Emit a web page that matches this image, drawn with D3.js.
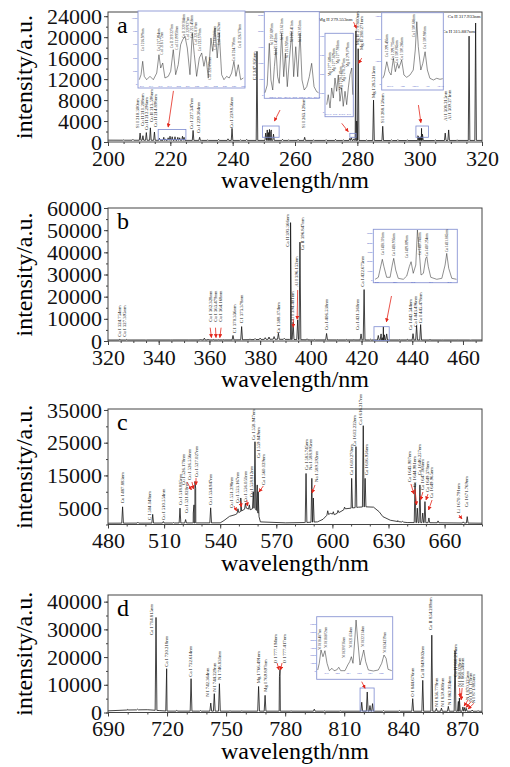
<!DOCTYPE html>
<html>
<head>
<meta charset="utf-8">
<script src="https://cdn.jsdelivr.net/npm/d3@7"></script>
<style>
  body { margin: 0; background: #fff; }
  text { font-family: "Liberation Serif", "Times New Roman", serif; }
</style>
</head>
<body>
<script>
// ---- panel a : 200-320 nm ----
var aPeakWl  = [205, 208, 210.3, 211.2, 212.3, 213.6, 214.9, 216.5, 217.9, 218.3, 219.3, 219.9, 220.6, 221.5, 222.4, 223.0, 223.9, 224.4, 227.3, 229.4, 232, 235.5, 238.5, 239.8, 242.5, 244.5, 247.8, 250.6, 251.1, 251.5, 251.8, 252.2, 252.4, 253.1, 256, 258, 261, 263.1, 266, 270, 273, 275.5, 277.6, 278.1, 278.9, 279.55, 279.8, 280.27, 283, 285.2, 288.15, 291, 293, 296, 299.4, 299.6, 299.9, 300.3, 300.6, 300.9, 305, 308.2, 309.3, 312, 315.85, 317.95];
var aPeakVal = [400, 500, 1700, 1200, 1800, 2700, 1900, 700, 900, 600, 800, 1100, 1000, 1000, 900, 800, 1100, 900, 2200, 900, 400, 500, 600, 2600, 400, 500, 17300, 1700, 2300, 1800, 2400, 2000, 2300, 1500, 500, 400, 500, 900, 400, 450, 500, 400, 700, 800, 600, 21200, 4000, 17800, 400, 8000, 3000, 400, 450, 400, 1200, 1100, 900, 1000, 2600, 1500, 400, 1700, 2300, 400, 20200, 22700];
var aBaseWl  = [200, 230, 260, 300, 320];
var aBaseVal = [350, 300, 300, 280, 300];
var aXTicks = [200, 220, 240, 260, 280, 300, 320];
var aYTicks = [0, 4000, 8000, 12000, 16000, 20000, 24000];
var aLabels = [
  ["Si I 210.300nm", 209.46, 2670], ["Cu II 211.208nm", 210.9, 3050], ["Cu II 212.296nm", 212.35, 2290],
  ["Cu II 213.598nm", 213.8, 3810], ["Cu II 214.898nm", 215.24, 2860], ["Cu I 227.347nm", 226.85, 2480],
  ["Cu I 229.384nm", 228.97, 1710], ["Cu I 239.856nm", 239.69, 2670], ["C I 247.856nm", 247.0, 11800],
  ["Si I 263.128nm", 262.66, 2670], ["Mg II 279.800nm", 280.04, 18480], ["Mg II 280.271nm", 281.17, 17530],
  ["Mg I 285.213nm", 285.11, 8380], ["Si I 288.158nm", 288.0, 3620], ["Al I 308.215nm", 308.12, 4000],
  ["Al I 309.271nm", 309.56, 4190]
];
var aFlatLabels = [["Mg II 279.553nm", 278.44, 23050], ["Ca II 315.887nm", 317.74, 20760], ["Ca II 317.933nm", 319.5, 23620]];
var aArrows = [[221.0, 9750, 219.3, 2850], [255.2, 6100, 253.4, 4000], [275.0, 3560, 277.1, 1960], [299.6, 7050, 300.4, 3680], [278.8, 22860, 279.7, 21700], [281.4, 16000, 280.4, 15000]];
var aBoxes = [[216.1, 225, 500, 2400], [249.6, 254.9, 900, 3050], [277.6, 279.6, 900, 1650], [298.8, 302.8, 900, 3050]];

// insets of panel a
var insA1Wl  = [215.73, 215.92, 216.1, 216.27, 216.53, 216.89, 217.25, 217.62, 217.86, 218.05, 218.27, 218.51, 218.87, 219.13, 219.41, 219.67, 219.95, 220.21, 220.43, 220.68, 220.93, 221.22, 221.47, 221.69, 221.94, 222.23, 222.49, 222.73, 222.95, 223.2, 223.49, 223.68, 223.93, 224.17, 224.39, 224.65, 224.9, 225.19, 225.47, 225.73, 225.98, 226.2, 226.45, 226.71, 227.0];
var insA1Val = [65, 141, 344, 116, 65, 116, 65, 166, 444, 242, 318, 91, 116, 192, 520, 141, 293, 596, 672, 722, 545, 141, 773, 444, 116, 394, 470, 268, 419, 91, 697, 495, 848, 394, 773, 141, 65, 116, 91, 166, 344, 116, 293, 65, 91];
var insA1Labels = [
  ["Cu I 216.509nm", 216.1, 495], ["Cu I 217.894nm", 217.79, 495], ["Cu I 218.172nm", 218.15, 444],
  ["Cu II 219.227nm", 219.23, 545], ["Cu II 219.958nm", 219.78, 520], ["Cu II 220.384nm", 220.5, 697],
  ["Cu I 220.927nm", 220.93, 672], ["Cu I 221.458nm", 221.4, 697], ["Cu I 221.810nm", 221.83, 596],
  ["Cu I 222.570nm", 222.3, 495], ["Cu I 222.898nm", 223.38, 66], ["Cu II 223.008nm", 223.92, 520],
  ["Cu I 224.262nm", 224.39, 596], ["Cu II 224.700nm", 225.98, 343], ["Cu II 226.378nm", 226.63, 545]
];
var insA2Wl  = [250.0, 250.15, 250.29, 250.4, 250.52, 250.63, 250.74, 250.85, 250.96, 251.12, 251.26, 251.37, 251.5, 251.64, 251.8, 251.93, 252.07, 252.2, 252.36, 252.49, 252.64, 252.81, 252.98, 253.14, 253.3, 253.48, 253.6];
var insA2Val = [72, 312, 1615, 469, 156, 885, 1459, 572, 364, 1928, 572, 1303, 260, 1094, 1978, 572, 1509, 572, 1928, 469, 156, 260, 572, 990, 260, 103, 72];
var insA2Labels = [["Si I 250.690nm", 250.44, 1563], ["Si I 251.432nm", 250.74, 1250], ["Si I 251.611nm", 251.11, 1719], ["Si I 251.920nm", 251.45, 1156], ["Si I 252.411nm", 251.78, 1656], ["Si I 252.851nm", 252.32, 1656]];
var insA3Wl  = [277.39, 277.5, 277.63, 277.75, 277.87, 277.99, 278.11, 278.23, 278.35, 278.48, 278.59, 278.72, 278.84, 278.96, 279.08, 279.21, 279.28];
var insA3Val = [77, 182, 42, 253, 147, 358, 218, 390, 113, 253, 60, 218, 77, 253, 393, 463, 182];
var insA3Labels = [["Mg I 277.669nm", 277.63, 379], ["Mg I 277.829nm", 277.88, 421], ["Mg I 277.983nm", 278.16, 505], ["Mg I 278.142nm", 278.41, 232], ["Mg I 278.297nm", 278.65, 316], ["Mg II 279.079nm", 278.91, 474]];
var insA4Wl  = [299.21, 299.27, 299.37, 299.46, 299.54, 299.63, 299.71, 299.79, 299.85, 299.96, 300.05, 300.16, 300.29, 300.42, 300.5, 300.56, 300.62, 300.72, 300.8, 300.89, 300.98, 301.08, 301.22, 301.35, 301.48, 301.59];
var insA4Val = [251, 397, 983, 542, 397, 1133, 542, 913, 692, 1058, 397, 295, 397, 617, 1499, 2747, 1649, 617, 913, 1424, 617, 251, 176, 251, 207, 234];
var insA4Labels = [["Cu I 299.456nm", 299.37, 1191], ["Cu I 299.735nm", 299.6, 1058], ["Cu I 300.065nm", 299.76, 926], ["Cu I 300.286nm", 299.96, 1058], ["Cu I 300.688nm", 300.43, 2073], ["Cu I 300.980nm", 300.89, 1544]];

// ---- panel b : 320-468 nm ----
var bPeakWl  = [324.7, 327.4, 335, 345, 352, 356.5, 358, 359.5, 361.5, 363.5, 365.5, 369.3, 372.7, 376, 378, 380, 382, 383.5, 385.5, 387.2, 389.5, 392.0, 393.0, 394.8, 395.7, 398.5, 401.5, 406.2, 410.5, 414, 417, 419.8, 421.0, 423.5, 426.6, 427.7, 428.2, 428.6, 429.0, 429.9, 435, 438, 440.3, 441.7, 443.3, 447, 452, 458, 463];
var bPeakVal = [800, 700, 400, 500, 500, 900, 1300, 900, 700, 600, 600, 2500, 6500, 900, 1100, 1300, 1500, 1800, 2000, 3500, 1200, 53400, 8500, 9500, 44600, 1000, 700, 3400, 600, 700, 600, 3200, 23200, 800, 2500, 3200, 1500, 6400, 2800, 3200, 600, 800, 3300, 7000, 7400, 700, 500, 500, 400];
var bBaseWl  = [320, 370, 385, 392, 400, 467.5];
var bBaseVal = [450, 500, 800, 700, 500, 450];
var bXTicks = [320, 340, 360, 380, 400, 420, 440, 460];
var bYTicks = [0, 10000, 20000, 30000, 40000, 50000, 60000];
var bLabels = [
  ["Cu I 324.754nm", 324.34, 1940], ["Cu I 327.395nm", 326.3, 1940], ["Cu I 362.328nm", 360.5, 8700],
  ["Cu I 363.479nm", 362.47, 8700], ["Cu I 364.168nm", 364.44, 8700], ["C I 370.336nm", 369.68, 3470],
  ["C I 373.378nm", 372.72, 7980], ["Cu I 388.174nm", 387.15, 3470], ["Ca II 393.366nm", 390.7, 42530],
  ["Al I 394.401nm", 392.83, 8700], ["Al I 396.152nm", 394.41, 24490], ["Ca II 396.847nm", 396.77, 41040],
  ["Cu I 406.530nm", 406.24, 4960], ["Cu I 421.360nm", 418.3, 4960], ["Ca I 422.673nm", 420.43, 24490],
  ["Ca I 442.544nm", 439.36, 4960], ["Ca I 443.496nm", 441.06, 6450], ["Ca I 445.478nm", 443.03, 7980]
];
var bArrows = [[431.8, 20300, 429.8, 8600], [393.1, 9800, 393.1, 6200], [394.8, 23000, 394.6, 9800], [360.3, 6000, 360.8, 1500], [362.4, 6000, 362.6, 1500], [364.6, 6000, 364.1, 1500]];
var bBoxes = [[424.9, 430.9, 150, 6450]];
var insBWl  = [427.9, 428.08, 428.23, 428.3, 428.39, 428.54, 428.73, 428.85, 428.93, 429.04, 429.18, 429.46, 429.65, 429.79, 429.89, 430.01, 430.15, 430.24, 430.33, 430.44, 430.57, 430.7, 430.76, 430.84, 430.98, 431.31, 431.59, 431.77, 431.86, 431.97, 432.14, 432.4];
var insBVal = [75, 289, 1605, 2215, 1423, 289, 289, 1605, 2322, 1070, 182, 75, 428, 1423, 1958, 717, 1605, 5350, 3391, 535, 717, 2322, 2493, 1423, 289, 75, 182, 1605, 2854, 1249, 182, 75];
var insBLabels = [["Ca I 428.301nm", 428.3, 2675], ["Ca I 428.936nm", 428.91, 2568], ["Ca I 429.899nm", 429.65, 2354], ["Ca I 430.043nm", 430.39, 2675], ["Ca I 430.254nm", 430.76, 2568], ["Ca I 431.865nm", 431.86, 2996]];

// ---- panel c : 480-680 nm ----
var cPeakWl  = [487.8, 496, 503.9, 509.6, 515, 518.5, 521.5, 525.6, 526.0, 526.5, 526.9, 534.9, 549.5, 551.0, 553.5, 555.6, 557.7, 558.6, 559.8, 560.3, 585.9, 589.0, 589.8, 597.5, 600.5, 603, 606.5, 610.3, 612.6, 616.5, 617.5, 635, 637.5, 644.2, 645.4, 646.8, 648.3, 649.5, 651.6, 656.5, 670.0, 672.1];
var cPeakVal = [5400, 700, 3100, 900, 600, 5000, 1500, 3500, 6000, 13100, 11000, 5100, 4800, 8100, 6500, 6000, 10000, 25300, 12100, 10000, 15600, 14100, 8100, 4200, 3900, 4300, 5300, 14100, 23800, 30200, 14100, 1200, 1000, 12600, 5000, 12100, 3500, 7000, 2000, 1100, 800, 2400];
var cBaseWl  = [480, 540, 542, 545, 548, 551, 554, 556, 558, 560, 561.5, 575, 585, 592, 595, 597, 599, 601, 604, 607, 610, 614, 618, 622, 625, 627, 631, 635, 640, 680];
var cBaseVal = [400, 500, 1200, 2500, 3000, 4000, 5000, 4500, 5000, 4000, 800, 500, 600, 800, 1600, 2800, 3400, 3000, 3800, 4800, 5000, 5300, 5400, 5300, 3900, 2400, 1300, 900, 600, 400];
var cXTicks = [480, 510, 540, 570, 600, 630, 660];
var cYTicks = [5000, 15000, 25000, 35000];
var cLabels = [
  ["Cu I 487.883nm", 487.86, 6480], ["C I 504.148nm", 502.2, 1400], ["Cu I 510.554nm", 509.68, 1400],
  ["Cu I 518.885nm", 518.5, 5960], ["Cu I 521.820nm", 521.7, 3510], ["Cu I 526.170nm", 520.27, 12070],
  ["Cu I 526.556nm", 523.48, 13600], ["Cu I 527.027nm", 527.06, 14520], ["Cu I 534.947nm", 534.92, 5960],
  ["Cu I 551.298nm", 546.15, 5040], ["Cu I 553.167nm", 549.14, 6570], ["Cu I 556.051nm", 553.26, 6880],
  ["Cu I 558.812nm", 556.6, 8400], ["Ca I 558.947nm", 557.9, 25820], ["Ca I 559.849nm", 560.37, 20320],
  ["Ca I 560.129nm", 563.05, 12070], ["Ca I 585.745nm", 585.88, 16660], ["Na I 588.995nm", 588.4, 16660],
  ["Na I 589.592nm", 591.6, 12990], ["Ca I 610.270nm", 610.32, 15130], ["Ca I 612.222nm", 611.71, 24000],
  ["Ca I 616.217nm", 614.92, 30500], ["Ca I 616.956nm", 618.34, 15130], ["Ca I 643.907nm", 641.12, 12990],
  ["Ca I 644.981nm", 643.8, 11460], ["Ca I 646.257nm", 646.47, 15130], ["Ca I 647.166nm", 648.29, 10540],
  ["Ca I 649.378nm", 650.96, 9930], ["Ca I 649.965nm", 653.1, 8100], ["Li I 670.791nm", 667.33, 3510],
  ["Ca I 671.769nm", 671.82, 5350]
];
var cArrows = [[522.2, 13000, 524.65, 10540], [524.9, 13000, 525.7, 10850], [527.06, 14200, 527.06, 12070], [547.4, 5650, 548.8, 4130], [550.6, 7180, 551.4, 5350], [554.2, 7490, 554.6, 5650], [563.05, 11770, 560.75, 9930], [590.7, 12070, 589.1, 9630], [642.0, 12380, 643.6, 9320], [644.2, 10850, 645.0, 5960], [648.4, 9930, 647.1, 7490], [651.1, 9320, 650.05, 7490], [653.3, 7490, 651.4, 4430], [667.7, 2900, 669.3, 1680]];

// ---- panel d : 690-880 nm ----
var dPeakWl  = [700, 705, 714.4, 719.8, 725, 732.2, 737, 742.2, 744.0, 746.6, 752, 758, 766.5, 769.8, 777.1, 777.4, 783, 794.8, 800, 808, 818.9, 821.7, 823.1, 824.4, 830, 838, 844.8, 849.9, 854.5, 856.8, 859.4, 862.9, 866.3, 868.0, 868.5, 870.3, 871.2, 872.0, 875, 878];
var dPeakVal = [1100, 1200, 34300, 15800, 800, 12200, 700, 3400, 6800, 10400, 600, 600, 9400, 6200, 13000, 15500, 600, 1200, 600, 600, 3700, 7400, 2500, 3200, 700, 700, 5000, 11600, 27900, 1500, 1600, 2200, 22200, 4000, 5200, 2000, 1800, 1500, 900, 700];
var dBaseWl  = [690, 700, 710, 716, 720, 880];
var dBaseVal = [600, 900, 1000, 700, 500, 450];
var dXTicks = [690, 720, 750, 780, 810, 840, 870];
var dYTicks = [0, 10000, 20000, 30000, 40000];
var dLabels = [
  ["Ca I 714.815nm", 712.2, 28000], ["Ca I 720.218nm", 719.83, 16530], ["Ca I 732.614nm", 732.02, 12920],
  ["N I 742.364nm", 740.66, 5700], ["N I 744.229nm", 744.01, 7510], ["N I 746.831nm", 746.4, 11730],
  ["Mg I 766.491nm", 766.37, 10540], ["Mg I 769.897nm", 769.78, 7510], ["O I 777.194nm", 774.86, 17760],
  ["O I 777.417nm", 779.43, 17760], ["O I 844.676nm", 844.83, 5700], ["Ca II 849.802nm", 849.91, 12340],
  ["Ca II 854.209nm", 853.62, 29770], ["N I 856.779nm", 857.02, 2090], ["N I 859.400nm", 860.07, 2090],
  ["N I 862.924nm", 863.27, 2710], ["Ca II 866.214nm", 866.68, 12920], ["N I 868.028nm", 868.51, 9310],
  ["N I 868.340nm", 869.88, 9310], ["N I 870.325nm", 872.57, 4510], ["N I 871.170nm", 873.94, 3900],
  ["N I 871.883nm", 875.62, 3320]
];
var dArrows = [[818.9, 11120, 820.6, 8730], [775.9, 17860, 776.9, 15340], [778.4, 17860, 777.65, 15340], [868.6, 8840, 868.9, 5590], [869.9, 8840, 869.4, 4510], [872.9, 4510, 870.9, 2350], [874.4, 3900, 871.9, 1800], [875.9, 3320, 872.9, 1260]];
var dBoxes = [[818.05, 825.2, 540, 8840]];
var insDWl  = [818.19, 818.33, 818.49, 818.67, 818.85, 819.04, 819.25, 819.49, 819.68, 819.92, 820.11, 820.29, 820.68, 820.93, 821.11, 821.26, 821.41, 821.57, 821.69, 821.84, 822.05, 822.23, 822.39, 822.57, 822.81, 823.27, 823.72, 824.03, 824.24, 824.43, 824.61, 824.95];
var insDVal = [128, 983, 2682, 1826, 2592, 983, 38, 345, 38, 128, 472, 38, 38, 766, 1188, 1826, 983, 3959, 6513, 3959, 766, 1750, 2682, 1188, 128, 0, 128, 983, 2043, 1622, 217, 38];
var insDLabels = [["N I 818.487nm", 818.4, 2682], ["N I 818.802nm", 818.95, 2937], ["N I 820.036nm", 820.59, 1660], ["N I 821.634nm", 821.2, 2937], ["N I 822.314nm", 822.3, 3065], ["N I 824.239nm", 824.27, 2299]];

var svg = d3.select("body").append("svg")
    .attr("width", 510)
    .attr("height", 767);

svg.append("defs").append("marker")
    .attr("id", "ah")
    .attr("viewBox", "0 0 10 10")
    .attr("refX", 9).attr("refY", 5)
    .attr("markerWidth", 5).attr("markerHeight", 5)
    .attr("orient", "auto")
  .append("path")
    .attr("d", "M0,0L10,5L0,10z")
    .attr("fill", "#e3261b");

var LEFT = 108, RIGHT = 482;

function rotLabels(g, x, y, list, fs) {
    g.selectAll(null).data(list).enter().append("text")
      .attr("transform", function(d) { return "translate(" + (x(d[1]) + fs * 0.35) + "," + y(d[2]) + ") rotate(-90)"; })
      .style("font-size", fs + "px")
      .style("fill", "#111")
      .text(function(d) { return d[0]; });
}

function drawPanel(p) {
    var x = d3.scaleLinear().domain(p.xd).range([LEFT, RIGHT]);
    var y = d3.scaleLinear().domain(p.yd).range([p.bottom, p.top]);
    var g = svg.append("g");

    // minor + major ticks
    var minorX = d3.range(p.xd[0], p.xd[1] + 0.01, p.xMinor);
    var minorY = d3.range(p.yd[0], p.yd[1] + 1, p.yMinor);
    [[minorX, 2, ""], [p.xTicks, 4, null]].forEach(function(t) {
        var ax = g.append("g").attr("transform", "translate(0," + p.bottom + ")")
          .call(d3.axisBottom(x).tickValues(t[0]).tickSize(t[1]).tickPadding(4)
                .tickFormat(t[2] === "" ? function() { return ""; } : d3.format("d")));
        ax.select(".domain").remove();
    });
    [[minorY, 2, ""], [p.yTicks, 4, null]].forEach(function(t) {
        var ax = g.append("g").attr("transform", "translate(" + LEFT + ",0)")
          .call(d3.axisLeft(y).tickValues(t[0]).tickSize(t[1]).tickPadding(2)
                .tickFormat(t[2] === "" ? function() { return ""; } : d3.format("d")));
        ax.select(".domain").remove();
    });
    g.selectAll(".tick line").attr("stroke", "#444");
    g.selectAll(".tick text")
      .style("font-family", "'Liberation Serif','Times New Roman',serif")
      .style("font-size", "22px")
      .attr("fill", "#111");

    // spectrum: baseline + peaks
    var base = d3.scaleLinear().domain(p.baseWl).range(p.baseVal).clamp(true);
    var pts = p.baseWl.map(function(w, i) { return [w, p.baseVal[i]]; });
    p.peakWl.forEach(function(w, i) {
        pts.push([w - p.hw, base(w - p.hw)], [w, p.peakVal[i]], [w + p.hw, base(w + p.hw)]);
    });
    pts.sort(function(a, b) { return a[0] - b[0]; });
    g.append("path")
      .attr("d", d3.line().x(function(d) { return x(d[0]); }).y(function(d) { return y(d[1]); })(pts))
      .attr("fill", "none")
      .attr("stroke", "#151515")
      .attr("stroke-width", 0.8)
      .attr("stroke-linejoin", "round");

    // frame
    g.append("rect")
      .attr("x", LEFT).attr("y", p.top)
      .attr("width", RIGHT - LEFT).attr("height", p.bottom - p.top)
      .attr("fill", "none").attr("stroke", "#444").attr("stroke-width", 1);

    // boxes around zoomed regions
    g.selectAll(null).data(p.boxes || []).enter().append("rect")
      .attr("x", function(d) { return x(d[0]); })
      .attr("y", function(d) { return y(d[3]); })
      .attr("width", function(d) { return x(d[1]) - x(d[0]); })
      .attr("height", function(d) { return y(d[2]) - y(d[3]); })
      .attr("fill", "none").attr("stroke", "#7d8bd0").attr("stroke-width", 0.8);

    // insets
    (p.insets || []).forEach(function(s) { drawInset(s); });

    // peak labels
    rotLabels(g, x, y, p.labels, 4.8);
    g.selectAll(null).data(p.flat || []).enter().append("text")
      .attr("x", function(d) { return x(d[1]); })
      .attr("y", function(d) { return y(d[2]); })
      .attr("text-anchor", "end")
      .style("font-size", "4.8px").style("fill", "#111")
      .text(function(d) { return d[0]; });

    // red arrows
    g.selectAll(null).data(p.arrows || []).enter().append("line")
      .attr("x1", function(d) { return x(d[0]); }).attr("y1", function(d) { return y(d[1]); })
      .attr("x2", function(d) { return x(d[2]); }).attr("y2", function(d) { return y(d[3]); })
      .attr("stroke", "#e3261b").attr("stroke-width", 0.8)
      .attr("marker-end", "url(#ah)");

    // panel letter and axis titles
    g.append("text").attr("x", 117).attr("y", p.top + 21)
      .style("font-size", "24px").text(p.letter);
    g.append("text").attr("x", 295).attr("y", p.bottom + 46)
      .attr("text-anchor", "middle").style("font-size", "24px").text("wavelength/nm");
    g.append("text")
      .attr("transform", "translate(32," + ((p.top + p.bottom) / 2) + ") rotate(-90)")
      .attr("text-anchor", "middle").style("font-size", "24px").text("intensity/a.u.");
}

function drawInset(s) {
    var x = d3.scaleLinear().domain(s.xd).range([s.px0, s.px1]);
    var y = d3.scaleLinear().domain(s.yd).range([s.py0, s.py1]);
    var g = svg.append("g");
    g.append("rect")
      .attr("x", s.f[0]).attr("y", s.f[1])
      .attr("width", s.f[2] - s.f[0]).attr("height", s.f[3] - s.f[1])
      .attr("fill", "#fff").attr("stroke", "#8b96d4").attr("stroke-width", 0.9);
    g.selectAll(null).data(s.yTicks).enter().append("text")
      .attr("x", s.f[0] - 0.8).attr("y", function(d) { return y(d); })
      .attr("dy", "0.35em").attr("text-anchor", "end")
      .style("font-size", "2.8px").style("fill", "#4f63c8")
      .text(function(d) { return d; });
    g.selectAll(null).data(s.xTicks).enter().append("text")
      .attr("x", function(d) { return x(d); }).attr("y", s.py0 + 3.2)
      .attr("text-anchor", "middle")
      .style("font-size", "2.8px").style("fill", "#4f63c8")
      .text(function(d) { return d; });
    g.append("path")
      .attr("d", d3.line().x(function(d, i) { return x(s.wl[i]); }).y(function(d) { return y(d); })(s.val))
      .attr("fill", "none").attr("stroke", "#333").attr("stroke-width", 0.55);
    rotLabels(g, x, y, s.labels, 3.5);
}

drawPanel({
    letter: "a", top: 12, bottom: 142, xd: [200, 320], yd: [0, 24800],
    xTicks: aXTicks, yTicks: aYTicks, xMinor: 5, yMinor: 2000, hw: 0.25,
    peakWl: aPeakWl, peakVal: aPeakVal, baseWl: aBaseWl, baseVal: aBaseVal,
    labels: aLabels, flat: aFlatLabels, arrows: aArrows, boxes: aBoxes,
    insets: [
      { f: [138, 11, 245, 88], px0: 139, px1: 244, py0: 84, py1: 18, xd: [215.7, 227.07], yd: [0, 1000],
        xTicks: [216, 217, 218, 219, 220, 221, 222, 223, 224, 225, 226, 227], yTicks: [0, 200, 400, 600, 800, 1000],
        wl: insA1Wl, val: insA1Val, labels: insA1Labels },
      { f: [264.3, 11.7, 319.3, 98.3], px0: 265, px1: 318.5, py0: 95, py1: 15, xd: [250.0, 253.6], yd: [0, 2500],
        xTicks: [250.5, 251, 251.5, 252, 252.5, 253, 253.5], yTicks: [0, 500, 1000, 1500, 2000, 2500],
        wl: insA2Wl, val: insA2Val, labels: insA2Labels },
      { f: [325, 33.3, 353.3, 116.7], px0: 325.5, px1: 353, py0: 112, py1: 36, xd: [277.3, 279.3], yd: [0, 800],
        xTicks: [277.5, 278, 278.5, 279], yTicks: [0, 200, 400, 600, 800],
        wl: insA3Wl, val: insA3Val, labels: insA3Labels },
      { f: [381.7, 12.7, 443.3, 90], px0: 382.5, px1: 443, py0: 84, py1: 16, xd: [299.2, 301.6], yd: [0, 3000],
        xTicks: [299.5, 300, 300.5, 301, 301.5], yTicks: [0, 1000, 2000, 3000],
        wl: insA4Wl, val: insA4Val, labels: insA4Labels }
    ]
});

drawPanel({
    letter: "b", top: 208, bottom: 341, xd: [320, 467.5], yd: [0, 60000],
    xTicks: bXTicks, yTicks: bYTicks, xMinor: 5, yMinor: 5000, hw: 0.35,
    peakWl: bPeakWl, peakVal: bPeakVal, baseWl: bBaseWl, baseVal: bBaseVal,
    labels: bLabels, arrows: bArrows, boxes: bBoxes,
    insets: [
      { f: [373.3, 229.3, 457.3, 282.7], px0: 374, px1: 456.5, py0: 280, py1: 233.3, xd: [427.84, 432.4], yd: [0, 5000],
        xTicks: [428, 429, 430, 431, 432], yTicks: [0, 1000, 2000, 3000, 4000, 5000],
        wl: insBWl, val: insBVal, labels: insBLabels }
    ]
});

drawPanel({
    letter: "c", top: 409, bottom: 524.5, xd: [480, 680], yd: [0, 35300],
    xTicks: cXTicks, yTicks: cYTicks, xMinor: 10, yMinor: 5000, hw: 0.45,
    peakWl: cPeakWl, peakVal: cPeakVal, baseWl: cBaseWl, baseVal: cBaseVal,
    labels: cLabels, arrows: cArrows
});

drawPanel({
    letter: "d", top: 595, bottom: 712.5, xd: [690, 880], yd: [0, 42400],
    xTicks: dXTicks, yTicks: dYTicks, xMinor: 10, yMinor: 5000, hw: 0.45,
    peakWl: dPeakWl, peakVal: dPeakVal, baseWl: dBaseWl, baseVal: dBaseVal,
    labels: dLabels, arrows: dArrows, boxes: dBoxes,
    insets: [
      { f: [316.7, 616.7, 392.7, 679.3], px0: 317.5, px1: 392, py0: 671, py1: 617, xd: [818.17, 824.97], yd: [0, 6900],
        xTicks: [819, 820, 821, 822, 823, 824], yTicks: [0, 1000, 2000, 3000, 4000, 5000, 6000],
        wl: insDWl, val: insDVal, labels: insDLabels }
    ]
});
</script>
</body>
</html>
